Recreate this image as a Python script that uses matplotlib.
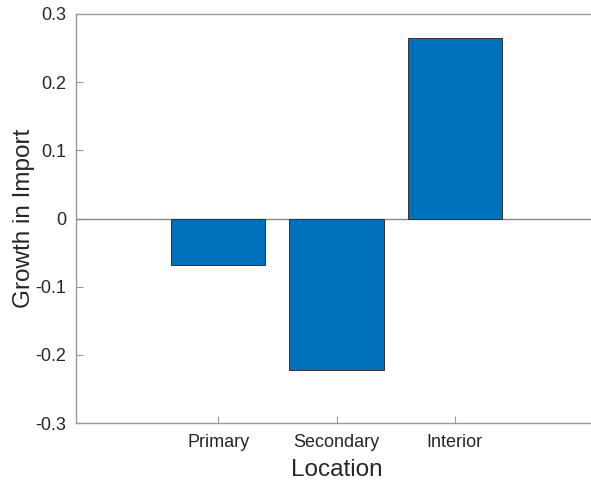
import matplotlib
matplotlib.use("Agg")
import matplotlib.pyplot as plt

categories = ["Primary", "Secondary", "Interior"]
growth = [-0.068, -0.222, 0.265]

plt.rcParams['font.family'] = ['Liberation Sans', 'DejaVu Sans']

fig = plt.figure(figsize=(5.91, 4.83), dpi=100)
# axes run past the right edge, as in the reference
ax = fig.add_axes([76 / 591, 1 - 423 / 483, (597 - 76) / 591, (423 - 14) / 483])

x = [1, 2, 3]
ax.bar(x, growth, width=0.8, color='#0072BD', edgecolor='#333333', linewidth=0.7, zorder=3)
ax.axhline(0, color='#888888', linewidth=1, zorder=2)

ax.set_xlim(-0.2, 4.2)
ax.set_ylim(-0.3, 0.3)
ax.set_xticks(x)
ax.set_xticklabels(categories)
ax.set_yticks([-0.3, -0.2, -0.1, 0, 0.1, 0.2, 0.3])
ax.set_yticklabels(['-0.3', '-0.2', '-0.1', '0', '0.1', '0.2', '0.3'])

for s in ax.spines.values():
    s.set_color('#999999')
    s.set_linewidth(1)
ax.spines['right'].set_visible(False)
ax.tick_params(direction='in', length=5, color='#999999', labelsize=13, labelcolor='#262626', pad=7)
ax.tick_params(axis='x', pad=8)

ax.set_xlabel('Location', fontsize=17.5, color='#262626', labelpad=6)
ax.set_ylabel('Growth in Import', fontsize=17.5, color='#262626', labelpad=0)

fig.savefig('out.png', dpi=100)
